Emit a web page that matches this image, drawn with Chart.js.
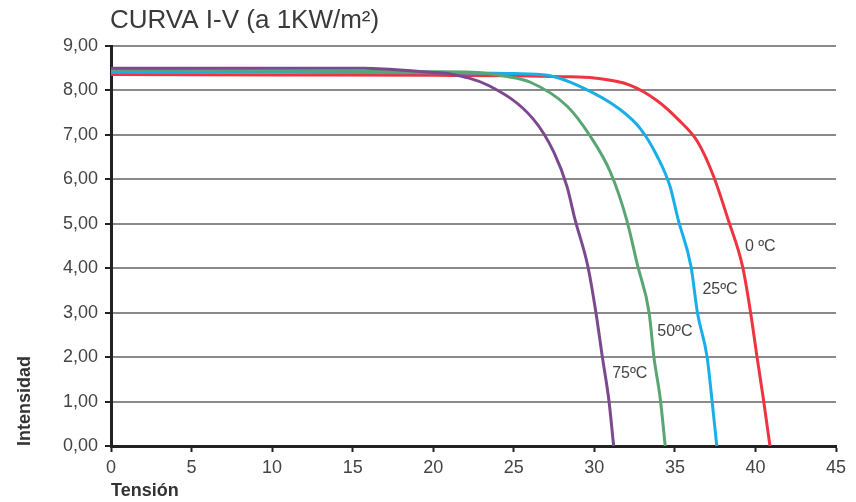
<!DOCTYPE html>
<html>
<head>
<meta charset="utf-8">
<script src="https://cdn.jsdelivr.net/npm/chart.js@4.4.1/dist/chart.umd.min.js"></script>
<style>
  html, body { margin: 0; padding: 0; background: #fff; }
  #wrap { width: 856px; height: 502px; }
</style>
</head>
<body>
<div id="wrap"><canvas id="ivChart" width="856" height="502"></canvas></div>
<script>
// Curve data (voltage in V, current in A)
const v0C  = [0, 10, 20, 25, 28, 30, 32.2, 33.9, 35.2, 36.4, 37.4, 38.3, 39.2, 39.7, 40.1, 40.5, 40.9];
const i0C  = [8.36, 8.35, 8.34, 8.33, 8.31, 8.28, 8.12, 7.77, 7.35, 6.85, 6.07, 5.1, 4.04, 3.0, 2.0, 1.04, 0];
const v25C = [0, 10, 20, 25, 27.1, 29.1, 31.6, 32.9, 33.9, 34.7, 35.2, 36.0, 36.4, 37.0, 37.3, 37.6];
const i25C = [8.41, 8.41, 8.40, 8.38, 8.34, 8.09, 7.57, 7.12, 6.52, 5.84, 5.1, 4.04, 3.0, 2.0, 1.04, 0];
const v50C = [0, 10, 20, 22.9, 24.5, 26.0, 28.3, 29.75, 31.0, 32.0, 32.7, 33.4, 33.7, 34.1, 34.4];
const i50C = [8.45, 8.44, 8.42, 8.40, 8.32, 8.19, 7.65, 6.97, 6.16, 5.1, 4.04, 3.0, 2.0, 1.04, 0];
const v75C = [0, 10, 15.7, 19.8, 20.9, 23.5, 26.2, 27.5, 28.3, 28.8, 29.6, 30.1, 30.5, 30.9, 31.2];
const i75C = [8.5, 8.5, 8.5, 8.41, 8.38, 8.1, 7.36, 6.6, 5.84, 5.1, 4.04, 3.0, 2.0, 1.04, 0];

// Curve labels and where they sit (data units)
const curveLabels = ['0 ºC', '25ºC', '50ºC', '75ºC'];
const labelV = [40.3, 37.8, 35.0, 32.2];
const labelI = [4.48, 3.51, 2.57, 1.64];

const chartTitle = 'CURVA I-V (a 1KW/m²)';
const FONT = '"Liberation Sans", Arial, sans-serif';

function toPoints(xs, ys) {
  return xs.map((x, i) => ({ x: x, y: ys[i] }));
}

// Draws the title at the left of the plot and the temperature labels
const extrasPlugin = {
  id: 'extras',
  afterDraw(chart) {
    const ctx = chart.ctx;
    const xs = chart.scales.x;
    const ys = chart.scales.y;
    ctx.save();
    ctx.fillStyle = '#3a3a3a';
    ctx.font = '26px ' + FONT;
    ctx.textAlign = 'left';
    ctx.textBaseline = 'middle';
    ctx.fillText(chartTitle, chart.chartArea.left - 1, 21);

    ctx.fillStyle = '#444';
    ctx.font = '16px ' + FONT;
    ctx.textAlign = 'center';
    curveLabels.forEach((t, i) => {
      ctx.fillText(t, xs.getPixelForValue(labelV[i]), ys.getPixelForValue(labelI[i]));
    });
    ctx.restore();
  }
};

function series(xs, ys, color) {
  return {
    data: toPoints(xs, ys),
    borderColor: color,
    borderWidth: 3,
    pointRadius: 0,
    fill: false,
    cubicInterpolationMode: 'monotone'
  };
}

const ctx = document.getElementById('ivChart').getContext('2d');
new Chart(ctx, {
  type: 'line',
  data: {
    datasets: [
      series(v75C, i75C, '#7b4a8e'),
      series(v50C, i50C, '#5aa574'),
      series(v25C, i25C, '#19aee8'),
      series(v0C, i0C, '#ee3441')
    ]
  },
  options: {
    responsive: false,
    animation: false,
    layout: { padding: { top: 46, right: 20, left: 0, bottom: 0 } },
    plugins: {
      legend: { display: false },
      tooltip: { enabled: false },
      title: { display: false }
    },
    scales: {
      x: {
        type: 'linear',
        min: 0,
        max: 45,
        ticks: {
          stepSize: 5,
          color: '#444',
          padding: 5,
          font: { family: FONT, size: 18 }
        },
        grid: { drawOnChartArea: false, drawTicks: true, tickLength: 6, tickColor: '#222', tickWidth: 2 },
        border: { color: '#222', width: 3 },
        title: {
          display: true,
          text: 'Tensión',
          align: 'start',
          color: '#333',
          padding: { top: 0, bottom: 0 },
          font: { family: FONT, size: 18, weight: 'bold' }
        },
        afterFit(scale) { scale.height = 56; }
      },
      y: {
        min: 0,
        max: 9,
        ticks: {
          stepSize: 1,
          color: '#444',
          padding: 7,
          font: { family: FONT, size: 18 },
          callback: v => v.toFixed(2).replace('.', ',')
        },
        grid: { color: '#8a8a8a', lineWidth: 2, drawTicks: true, tickLength: 6, tickColor: '#222', tickWidth: 2 },
        border: { color: '#222', width: 3 },
        title: {
          display: true,
          text: 'Intensidad',
          align: 'start',
          color: '#333',
          padding: { top: 14, bottom: 0 },
          font: { family: FONT, size: 18, weight: 'bold' }
        },
        afterFit(scale) { scale.width = 111; }
      }
    }
  },
  plugins: [extrasPlugin]
});
</script>
</body>
</html>
